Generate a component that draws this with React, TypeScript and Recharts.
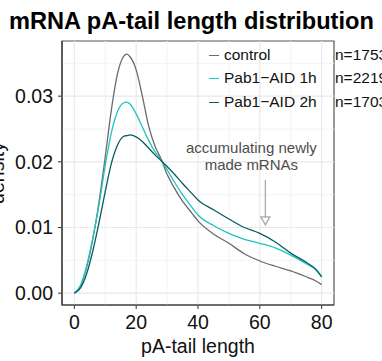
import React from "react";
import { LineChart, Line, XAxis, YAxis, ReferenceLine, ReferenceArea } from "recharts";

// Density curves (x = pA-tail length)
const tailLength = [0, 2, 4, 6, 8, 10, 12, 14, 16, 17, 18, 20, 22, 24, 26, 28, 30, 32, 35, 38, 40, 45, 50, 55, 60, 65, 70, 75, 78, 80];
const control = [0, 0.0011, 0.004, 0.0083, 0.014, 0.0208, 0.028, 0.0335, 0.0361, 0.0364, 0.036, 0.034, 0.03, 0.0255, 0.0225, 0.0205, 0.0181, 0.0163, 0.014, 0.0122, 0.011, 0.009, 0.0076, 0.006, 0.0049, 0.0041, 0.0034, 0.0025, 0.0019, 0.0013];
const pab1h = [0, 0.0012, 0.0042, 0.0085, 0.0135, 0.0195, 0.0245, 0.0277, 0.029, 0.0291, 0.0288, 0.0273, 0.0253, 0.0233, 0.0216, 0.0203, 0.0188, 0.0172, 0.015, 0.0131, 0.0119, 0.0103, 0.0091, 0.0082, 0.0076, 0.0069, 0.0058, 0.0045, 0.0036, 0.0025];
const pab2h = [0, 0.0008, 0.003, 0.0065, 0.0108, 0.0155, 0.0198, 0.0226, 0.0239, 0.024, 0.0241, 0.0238, 0.0231, 0.0221, 0.0211, 0.0202, 0.0193, 0.0183, 0.0167, 0.0152, 0.0142, 0.0127, 0.0113, 0.01, 0.0091, 0.0078, 0.0061, 0.0047, 0.0037, 0.0025];

const seriesNames = ["control", "Pab1\u2212AID 1h", "Pab1\u2212AID 2h"];
const seriesCounts = ["n=1753", "n=2219", "n=1703"];
const seriesColors = ["#6b6b6b", "#1fc3c3", "#0b5c5e"];
const seriesKeys = ["control", "h1", "h2"];

const xTicks = [0, 20, 40, 60, 80];
const xMinor = [10, 30, 50, 70];
const yTicks = [0, 0.01, 0.02, 0.03];
const yMinor = [0.005, 0.015, 0.025, 0.035];

const X_DOMAIN: [number, number] = [-4, 84];
const Y_DOMAIN: [number, number] = [-0.0018, 0.0384];

const FONT = "'Liberation Sans', Arial, Helvetica, sans-serif";

const data = tailLength.map((x, i) => ({ x, control: control[i], h1: pab1h[i], h2: pab2h[i] }));

// arrow + two-line note pointing at the shoulder of the 2h curve
function NoteArrow(props: any) {
  const { x1, y1, y2 } = props;
  return (
    <g>
      <text x={x1 - 14} y={y1 - 27} textAnchor="middle" fontSize={15} fill="#4d4d4d" fontFamily={FONT}>
        accumulating newly
      </text>
      <text x={x1 - 14} y={y1 - 9.5} textAnchor="middle" fontSize={15} fill="#4d4d4d" fontFamily={FONT}>
        made mRNAs
      </text>
      <line x1={x1} y1={y1} x2={x1} y2={y2 - 7} stroke="#aaaaaa" strokeWidth={1.3} />
      <path d={`M${x1 - 4.5},${y2 - 8} L${x1 + 4.5},${y2 - 8} L${x1},${y2} Z`} fill="none" stroke="#aaaaaa" strokeWidth={1.3} />
    </g>
  );
}

export default function App() {
  return (
    <div style={{ position: "absolute", left: 0, top: 0, width: 382, height: 361, overflow: "hidden", background: "#fff", fontFamily: FONT }}>
      <div style={{ position: "absolute", left: 9, top: 8, fontSize: 23.6, lineHeight: "27px", fontWeight: 700, whiteSpace: "nowrap", color: "#000" }}>
        mRNA pA-tail length distribution
      </div>
      <LineChart width={382} height={361} data={data} margin={{ top: 41, right: 48, bottom: 0, left: 0 }}>
        {[...xMinor].map((v) => (
          <ReferenceLine key={"xm" + v} x={v} stroke="#f3f3f3" strokeWidth={1} />
        ))}
        {[...yMinor].map((v) => (
          <ReferenceLine key={"ym" + v} y={v} stroke="#f3f3f3" strokeWidth={1} />
        ))}
        {xTicks.map((v) => (
          <ReferenceLine key={"x" + v} x={v} stroke="#e9e9e9" strokeWidth={1.2} />
        ))}
        {yTicks.map((v) => (
          <ReferenceLine key={"y" + v} y={v} stroke="#e9e9e9" strokeWidth={1.2} />
        ))}
        <XAxis
          dataKey="x"
          type="number"
          domain={X_DOMAIN}
          ticks={xTicks}
          allowDataOverflow
          height={56}
          tickSize={4}
          tickMargin={6}
          axisLine={{ stroke: "#333", strokeWidth: 1.2 }}
          tickLine={{ stroke: "#333" }}
          tick={{ fill: "#111", fontSize: 19.5, fontFamily: FONT }}
          label={{ value: "pA-tail length", position: "insideBottom", offset: 8, fill: "#111", fontSize: 19.5, fontFamily: FONT }}
        />
        <YAxis
          type="number"
          domain={Y_DOMAIN}
          ticks={yTicks}
          allowDataOverflow
          width={62}
          tickSize={4}
          tickMargin={5}
          tickFormatter={(v: number) => v.toFixed(2)}
          axisLine={{ stroke: "#333", strokeWidth: 1.2 }}
          tickLine={{ stroke: "#333" }}
          tick={{ fill: "#111", fontSize: 19.5, fontFamily: FONT }}
          label={{
            content: () => (
              <text transform="translate(4,173) rotate(-90)" textAnchor="middle" fontSize={19.5} fill="#111" fontFamily={FONT}>
                density
              </text>
            ),
          }}
        />
        <ReferenceArea x1={X_DOMAIN[0]} x2={X_DOMAIN[1]} y1={Y_DOMAIN[0]} y2={Y_DOMAIN[1]} fill="none" fillOpacity={0} stroke="#555" strokeWidth={1.2} ifOverflow="visible" />
        {seriesKeys.map((k, i) => (
          <Line key={k} type="monotone" dataKey={k} stroke={seriesColors[i]} strokeWidth={1.3} dot={false} isAnimationActive={false} />
        ))}
        <ReferenceLine segment={[{ x: 61.8, y: 0.01725 }, { x: 61.8, y: 0.0104 }]} shape={NoteArrow} ifOverflow="visible" />
      </LineChart>
      {seriesNames.map((name, i) => (
        <div key={name} style={{ position: "absolute", left: 0, top: 55 + i * 23.3 - 10, height: 20, width: 400, fontSize: 15.5, lineHeight: "20px", color: "#111" }}>
          <span style={{ position: "absolute", left: 209, top: 10, width: 10, height: 0, borderTop: `1.6px solid ${seriesColors[i]}` }} />
          <span style={{ position: "absolute", left: 224, top: 0, whiteSpace: "nowrap" }}>{name}</span>
          <span style={{ position: "absolute", left: 335, top: 0, whiteSpace: "nowrap" }}>{seriesCounts[i]}</span>
        </div>
      ))}
    </div>
  );
}
